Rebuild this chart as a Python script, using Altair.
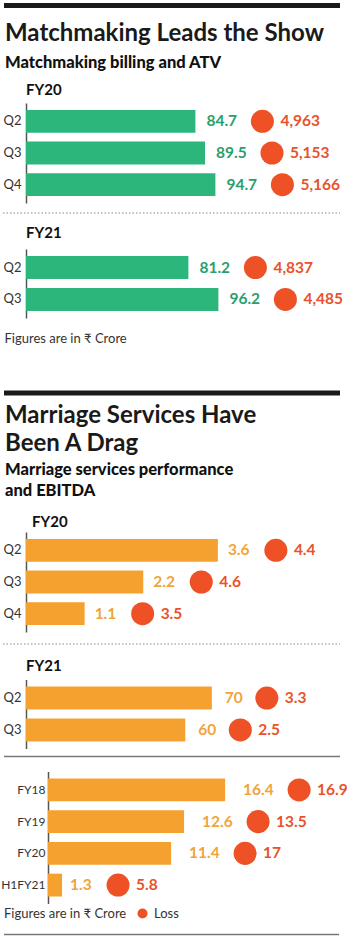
import altair as alt
import pandas as pd

# ---------------- data ----------------
mm_q_fy20 = ["Q2", "Q3", "Q4"]
mm_billing_fy20 = [84.7, 89.5, 94.7]
mm_atv_fy20 = [4963, 5153, 5166]
mm_q_fy21 = ["Q2", "Q3"]
mm_billing_fy21 = [81.2, 96.2]
mm_atv_fy21 = [4837, 4485]

ms_q_fy20 = ["Q2", "Q3", "Q4"]
ms_perf_fy20 = [3.6, 2.2, 1.1]
ms_loss_fy20 = [4.4, 4.6, 3.5]
ms_q_fy21 = ["Q2", "Q3"]
ms_perf_fy21 = [70, 60]
ms_loss_fy21 = [3.3, 2.5]
ms_years = ["FY18", "FY19", "FY20", "H1FY21"]
ms_perf_years = [16.4, 12.6, 11.4, 1.3]
ms_loss_years = [16.9, 13.5, 17, 5.8]

# ---------------- styles ----------------
FONT = "Lato"
GREEN, GREEN_T = "#2db67c", "#2a9f6c"
ORANGE, ORANGE_T = "#f4a130", "#f1a43c"
RED, RED_T = "#ee5126", "#e8532b"
CHAR_W = {2: 17, 3: 23, 4: 31}
W = 314  # plot width of every panel (plot origin at x=26)
VFS = 15.5


def fmt(v, kind):
    if kind == "comma":
        return f"{v:,}"
    if kind == "1f":
        return f"{v:.1f}"
    return f"{v:g}"


def panel(cats, vals, circ, vfmt, cfmt, bar_c, txt_c, dmax, height,
          label_dx, x0=0, title=None, title_dx=0, title_offset=5,
          x_axis=None, extra=(), legend=None, lab_fs=13, lab_pad=5):
    df = pd.DataFrame({"cat": cats, "val": vals, "circ": circ})
    df["vlab"] = [fmt(v, vfmt) for v in vals]
    df["clab"] = [fmt(c, cfmt) for c in circ]
    df["n"] = df["vlab"].str.len()
    df["kind"] = "Loss"
    base = alt.Chart(df)
    y = alt.Y("cat:N", sort=cats,
              scale=alt.Scale(paddingInner=0.28, paddingOuter=0.22),
              axis=alt.Axis(title=None, ticks=False, labelFont=FONT,
                            labelFontSize=lab_fs, labelColor="#333",
                            labelPadding=lab_pad, domainColor="#555",
                            domainWidth=1.5, offset=-x0,
                            minExtent=26, maxExtent=26))
    x = alt.X("val:Q", scale=alt.Scale(domain=[0, dmax], range=[x0, W],
                                       nice=False),
              axis=x_axis)
    layers = [base.mark_bar(color=bar_c).encode(x=x, y=y)]
    for n in sorted(df["n"].unique()):
        n = int(n)
        sub = base.transform_filter(alt.datum.n == n)
        ldx = label_dx[n] if isinstance(label_dx, dict) else label_dx
        coff = ldx + CHAR_W[n] + 25
        layers.append(sub.mark_text(align="left", baseline="middle", dx=ldx,
                                    font=FONT, fontSize=VFS, fontWeight="bold",
                                    color=txt_c)
                      .encode(x=x, y=y, text="vlab:N"))
        if legend is not None:
            circle = sub.mark_circle(size=530, opacity=1, xOffset=coff).encode(
                x=x, y=y,
                color=alt.Color("kind:N",
                                scale=alt.Scale(domain=["Loss"], range=[RED]),
                                legend=legend))
        else:
            circle = sub.mark_circle(size=530, opacity=1, color=RED,
                                     xOffset=coff).encode(x=x, y=y)
        layers.append(circle)
        layers.append(sub.mark_text(align="left", baseline="middle",
                                    dx=coff + 18, font=FONT, fontSize=VFS,
                                    fontWeight="bold", color=RED_T)
                      .encode(x=x, y=y, text="clab:N"))
    layers.extend(extra)
    props = dict(width=W, height=height)
    if title:
        props["title"] = alt.TitleParams(title, anchor="start", frame="group",
                                         font=FONT, fontSize=15,
                                         fontWeight="bold", color="#111",
                                         offset=title_offset, dx=title_dx)
    return alt.layer(*layers).properties(**props)


one = pd.DataFrame({"k": [0]})


def hrule(y, x1, x2, color, width, dash=None):
    kw = dict(color=color, strokeWidth=width)
    if dash:
        kw["strokeDash"] = dash
    return alt.Chart(one).mark_rule(**kw).encode(
        x=alt.value(x1), x2=alt.value(x2), y=alt.value(y))


DOT = [1.5, 2]

m20 = panel(mm_q_fy20, mm_billing_fy20, mm_atv_fy20, "1f", "comma", GREEN,
            GREEN_T, 157, 100, 11, title="FY20", title_offset=5,
            extra=[hrule(110, -23, W, "#888", 1, DOT)])
foot1 = alt.Axis(title="Figures are in ₹ Crore", labels=False, ticks=False,
                 domain=False, grid=False, titleFont=FONT, titleFontSize=13,
                 titleFontWeight="normal", titleColor="#333", titleX=-22,
                 titleY=24, titleAlign="left", titleBaseline="alphabetic")
m21 = panel(mm_q_fy21, mm_billing_fy21, mm_atv_fy21, "1f", "comma", GREEN,
            GREEN_T, 157, 69, 11, title="FY21", title_offset=8,
            x_axis=foot1)

w20 = panel(ms_q_fy20, ms_perf_fy20, ms_loss_fy20, "g", "g", ORANGE,
            ORANGE_T, W / 53.3, 100, 10, title="FY20",
            title_dx=6, title_offset=2,
            extra=[hrule(112, -23, W, "#888", 1, DOT)])
w21 = panel(ms_q_fy21, ms_perf_fy21, ms_loss_fy21, "g", "g", ORANGE,
            ORANGE_T, W / 2.655, 69, 13, title="FY21",
            title_offset=6,
            extra=[hrule(77, -22, W, "#777", 1.5)])
leg = alt.Legend(orient="none", legendX=-22, legendY=135.5,
                 direction="horizontal", title="Figures are in ₹ Crore",
                 titleOrient="left", titleFont=FONT, titleFontSize=13,
                 titleFontWeight="normal", titleColor="#333",
                 titlePadding=9, labelFont=FONT, labelFontSize=13,
                 labelColor="#333", labelOffset=5, symbolType="circle",
                 symbolSize=100, symbolStrokeWidth=0, symbolOpacity=1)
ann = panel(ms_years, ms_perf_years, ms_loss_years, "g", "g", ORANGE,
            ORANGE_T, (W - 22) / 10.8, 132, {3: 8, 4: 18}, x0=22,
            extra=[hrule(163, -22, W - 1, "#777", 1.5)], legend=leg,
            lab_fs=12, lab_pad=3)

rule1 = hrule(5.5, -22, W, "#1a1a1a", 5).properties(width=W, height=21)
rule2 = hrule(48, -22, W, "#1a1a1a", 5).properties(width=W, height=58)

TFS, SFS = 24, 16.5
sec1 = alt.vconcat(m20, m21, spacing=12).properties(
    title=alt.TitleParams("Matchmaking Leads the Show",
                          subtitle="Matchmaking billing and ATV",
                          anchor="start", font=FONT, fontSize=TFS,
                          fontWeight="bold", color="#1a1a1a",
                          subtitleFont=FONT, subtitleFontSize=SFS,
                          subtitleFontWeight=900, subtitleColor="#111",
                          subtitlePadding=9, offset=12, dx=5))

lower = alt.vconcat(w21, ann, spacing=14).resolve_scale(color="independent")
sec2 = alt.vconcat(w20, lower, spacing=13.5).resolve_scale(
    color="independent").properties(
    title=alt.TitleParams(["Marriage Services Have", "Been A Drag"],
                          subtitle=["Marriage services performance",
                                    "and EBITDA"],
                          anchor="start", font=FONT, fontSize=TFS,
                          fontWeight="bold", color="#1a1a1a", lineHeight=28,
                          subtitleFont=FONT, subtitleFontSize=SFS,
                          subtitleFontWeight=900, subtitleColor="#111",
                          subtitleLineHeight=21, subtitlePadding=6,
                          offset=16, dx=5))

chart = alt.vconcat(rule1, sec1, rule2, sec2, spacing=0).resolve_scale(
    color="independent").properties(
    padding={"left": 0, "top": 0, "right": 0, "bottom": 0},
    background="white").configure_view(stroke=None)

chart.save("out.html", embed_options={"renderer": "svg", "actions": False})
